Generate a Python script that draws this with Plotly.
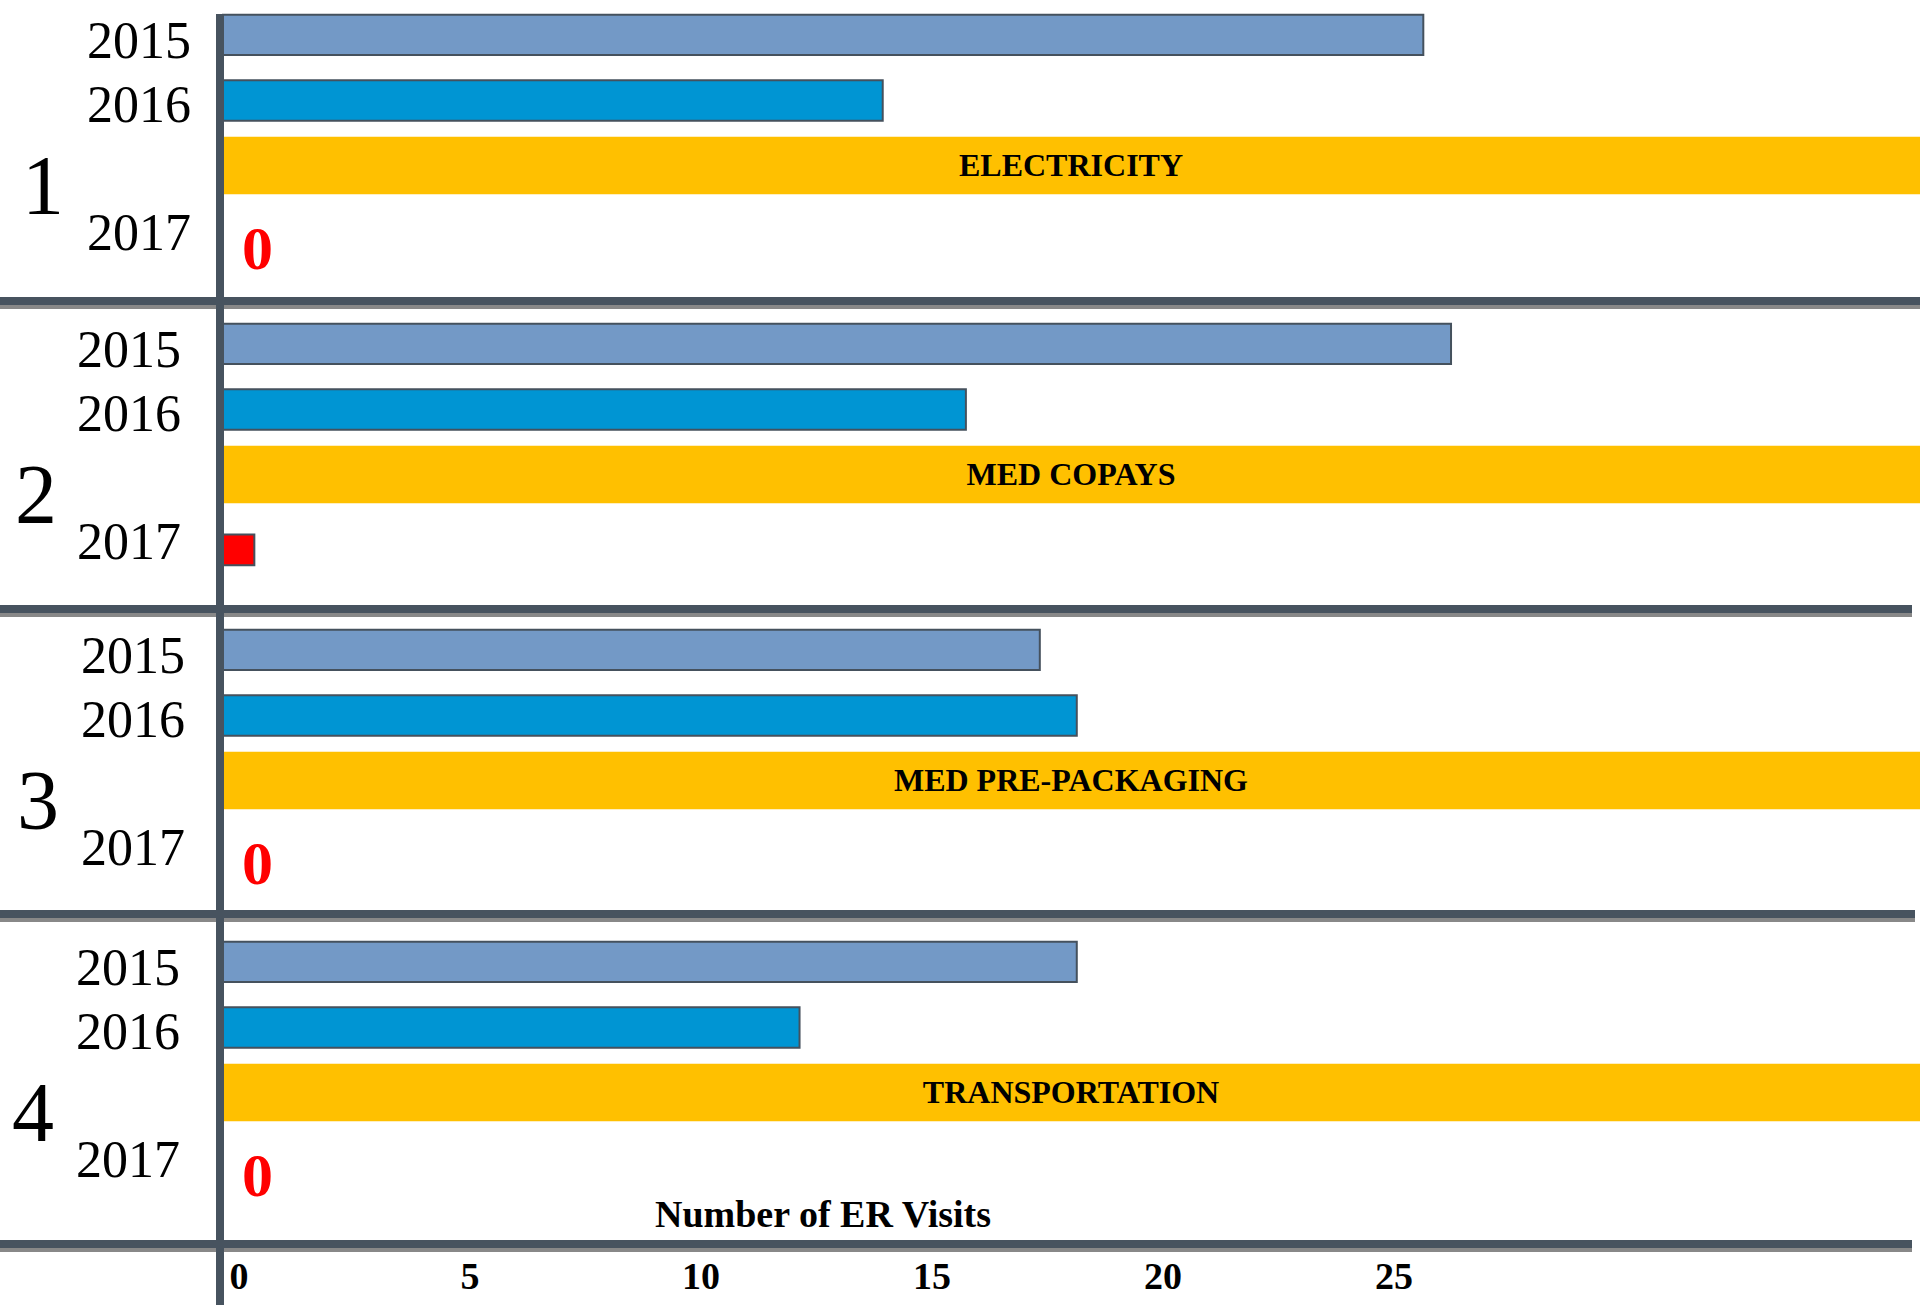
import plotly.graph_objects as go

# ---------------- data ----------------
GROUP_NUMBERS = ["1", "2", "3", "4"]
CATEGORIES = ["ELECTRICITY", "MED COPAYS", "MED PRE-PACKAGING", "TRANSPORTATION"]
YEARS = ["2015", "2016", "2017"]
VISITS_2015 = [26.0, 26.6, 17.7, 18.5]
VISITS_2016 = [14.3, 16.1, 18.5, 12.5]
VISITS_2017 = [0, 0.7, 0, 0]
X_TICKS = [0, 5, 10, 15, 20, 25]
X_TITLE = "Number of ER Visits"

# ---------------- layout / style ----------------
W, H = 1920, 1305
FONT = "Liberation Serif"
X_MAX = 36.75
X_DOMAIN_START = 222 / W
AXIS_LINE_X = 220 / W
GROUP_TOPS = [8, 317, 623, 935]
LABEL_STANDOFF = [30, 40, 36, 41]
GROUP_NUM_X = [43, 36, 38, 33]
ROW_PX = 64
N_ROWS = 4
SEPARATORS = [(301, 1.0), (609, 1912 / W), (914, 1915 / W), (1244, 1912 / W)]

C_2015 = "#7399c6"
C_2016 = "#0095d3"
C_BAND = "#ffc000"
C_2017 = "#ff0000"
C_EDGE = "#45515d"
C_DARK = "#47535f"
C_GREY = "#888888"

fig = go.Figure()
annotations = []
layout_axes = {}

for g in range(len(CATEGORIES)):
    yname = "y" if g == 0 else f"y{g + 1}"
    ykey = "yaxis" if g == 0 else f"yaxis{g + 1}"
    cats = [YEARS[0], YEARS[1], CATEGORIES[g], YEARS[2]]

    fig.add_trace(go.Bar(
        x=[VISITS_2015[g]], y=[YEARS[0]], orientation="h",
        width=0.63, offset=-0.395,
        marker=dict(color=C_2015, line=dict(color=C_EDGE, width=2)),
        xaxis="x", yaxis=yname, showlegend=False, hoverinfo="x"))
    fig.add_trace(go.Bar(
        x=[VISITS_2016[g]], y=[YEARS[1]], orientation="h",
        width=0.63, offset=-0.37,
        marker=dict(color=C_2016, line=dict(color=C_EDGE, width=2)),
        xaxis="x", yaxis=yname, showlegend=False, hoverinfo="x"))
    fig.add_trace(go.Bar(
        x=[X_MAX], y=[CATEGORIES[g]], orientation="h",
        width=0.9, offset=-0.49,
        marker=dict(color=C_BAND, line=dict(width=0)),
        text=[CATEGORIES[g]], textposition="inside", insidetextanchor="middle",
        textangle=0,
        insidetextfont=dict(family=FONT, size=32, color="black", weight="bold"),
        xaxis="x", yaxis=yname, showlegend=False, hoverinfo="skip"))
    fig.add_trace(go.Bar(
        x=[VISITS_2017[g]], y=[YEARS[2]], orientation="h",
        width=0.48, offset=-0.10,
        marker=dict(color=C_2017,
                    line=dict(color=C_EDGE, width=2 if VISITS_2017[g] > 0 else 0)),
        xaxis="x", yaxis=yname, showlegend=False, hoverinfo="x"))

    if VISITS_2017[g] == 0:
        annotations.append(dict(
            x=0, y=cats.index(YEARS[2]), xref="x", yref=yname,
            text=str(VISITS_2017[g]), showarrow=False,
            xanchor="left", yanchor="middle", xshift=18, yshift=-16,
            font=dict(family=FONT, size=62, color=C_2017, weight="bold")))

    annotations.append(dict(
        x=GROUP_NUM_X[g] / W, y=2.28, xref="paper", yref=yname,
        text=GROUP_NUMBERS[g],
        showarrow=False, xanchor="center", yanchor="middle",
        font=dict(family=FONT, size=84, color="black")))

    top = GROUP_TOPS[g]
    layout_axes[ykey] = dict(
        domain=[1 - (top + N_ROWS * ROW_PX) / H, 1 - top / H],
        anchor="x", type="category",
        categoryorder="array", categoryarray=cats,
        range=[N_ROWS - 0.5, -0.5],
        tickmode="array", tickvals=YEARS, ticktext=YEARS,
        ticks="", showline=False, showgrid=False, zeroline=False,
        ticklabelstandoff=LABEL_STANDOFF[g],
        tickfont=dict(family=FONT, size=52, color="black"),
        fixedrange=True)

annotations.append(dict(
    x=823 / W, y=1 - 1214 / H, xref="paper", yref="paper", text=X_TITLE,
    showarrow=False, xanchor="center", yanchor="middle",
    font=dict(family=FONT, size=38, color="black", weight="bold")))

shapes = []
for ypx, xend in SEPARATORS:
    shapes.append(dict(type="line", xref="paper", yref="paper",
                       x0=0, x1=xend, y0=1 - (ypx + 6) / H, y1=1 - (ypx + 6) / H,
                       line=dict(color=C_GREY, width=4), layer="above"))
    shapes.append(dict(type="line", xref="paper", yref="paper",
                       x0=0, x1=xend, y0=1 - ypx / H, y1=1 - ypx / H,
                       line=dict(color=C_DARK, width=8), layer="above"))
shapes.append(dict(type="line", xref="paper", yref="paper",
                   x0=AXIS_LINE_X, x1=AXIS_LINE_X, y0=0, y1=1 - 14 / H,
                   line=dict(color=C_DARK, width=8), layer="above"))

fig.update_layout(
    width=W, height=H,
    margin=dict(l=0, r=0, t=0, b=0),
    paper_bgcolor="white", plot_bgcolor="white",
    barmode="overlay",
    showlegend=False,
    xaxis=dict(domain=[X_DOMAIN_START, 1], range=[0, X_MAX],
               anchor="free", position=1 - 1250 / H, side="bottom",
               tickmode="array", tickvals=X_TICKS,
               ticks="", showline=False, showgrid=False, zeroline=False,
               ticklabelshift=17,
               tickfont=dict(family=FONT, size=38, color="black", weight="bold"),
               fixedrange=True),
    annotations=annotations,
    shapes=shapes,
    **layout_axes,
)

fig.write_html("out.html")
